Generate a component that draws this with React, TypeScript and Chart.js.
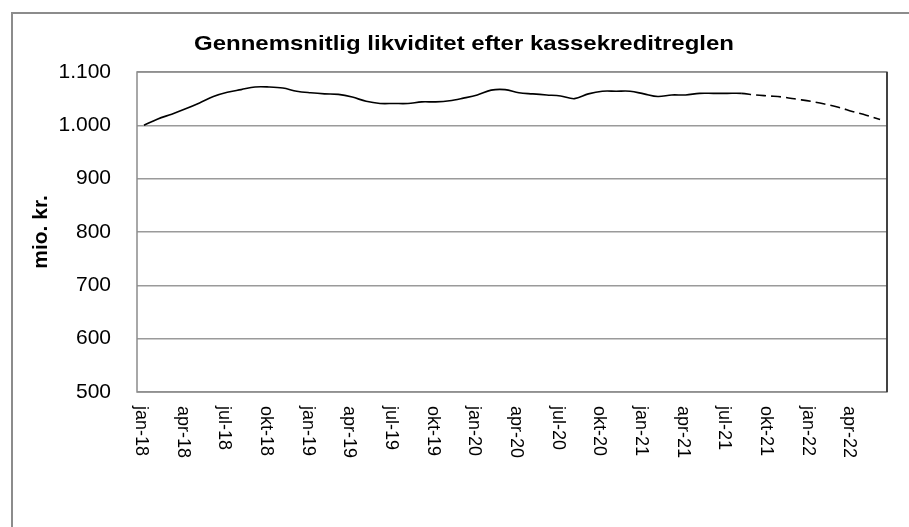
import React, { useEffect, useRef } from "react";
import { Chart, registerables } from "chart.js";

Chart.register(...registerables);

const categories = [
  "jan-18","feb-18","mar-18","apr-18","maj-18","jun-18","jul-18","aug-18","sep-18","okt-18","nov-18","dec-18",
  "jan-19","feb-19","mar-19","apr-19","maj-19","jun-19","jul-19","aug-19","sep-19","okt-19","nov-19","dec-19",
  "jan-20","feb-20","mar-20","apr-20","maj-20","jun-20","jul-20","aug-20","sep-20","okt-20","nov-20","dec-20",
  "jan-21","feb-21","mar-21","apr-21","maj-21","jun-21","jul-21","aug-21","sep-21","okt-21","nov-21","dec-21",
  "jan-22","feb-22","mar-22","apr-22","maj-22","jun-22",
];

const liquidity = [
  1000, 1012, 1021, 1031, 1042, 1054, 1062, 1067, 1072, 1072, 1070, 1064,
  1061, 1059, 1058, 1053, 1045, 1041, 1041, 1041, 1044, 1044, 1046, 1051,
  1057, 1066, 1067, 1061, 1059, 1057, 1055, 1050, 1059, 1064, 1064, 1064,
  1059, 1054, 1057, 1057, 1060, 1060, 1060, 1060, 1057, 1055, 1053, 1049,
  1045, 1040, 1034, 1026, 1019, 1011,
];

const forecastFrom = "aug-21";
const yTicks = [500, 600, 700, 800, 900, 1000, 1100];
const titleText = "Gennemsnitlig likviditet efter kassekreditreglen";
const yTitleText = "mio. kr.";

const FONT = "'Liberation Sans', Arial, sans-serif";

function fmt(v: number): string {
  const s = String(Math.round(v));
  return s.length > 3 ? s.slice(0, s.length - 3) + "." + s.slice(s.length - 3) : s;
}

const decorPlugin = {
  id: "decor",
  afterDraw(chart: any) {
    const { ctx, chartArea } = chart;
    const xs = chart.scales.x;
    ctx.save();
    // plot border
    ctx.strokeStyle = "#8c8c8c";
    ctx.lineWidth = 1.5;
    ctx.strokeRect(chartArea.left, chartArea.top, chartArea.right - chartArea.left, chartArea.bottom - chartArea.top);
    ctx.strokeStyle = "#222";
    ctx.beginPath();
    ctx.moveTo(chartArea.right, chartArea.top);
    ctx.lineTo(chartArea.right, chartArea.bottom);
    ctx.stroke();

    // title (fit to the reference width)
    ctx.fillStyle = "#000";
    ctx.font = `bold 21px ${FONT}`;
    ctx.textAlign = "center";
    ctx.textBaseline = "middle";
    const w = ctx.measureText(titleText).width;
    const sx = 540 / w;
    ctx.save();
    ctx.translate(464, 44);
    ctx.scale(sx, 1);
    ctx.fillText(titleText, 0, 0);
    ctx.restore();

    // y title
    ctx.save();
    ctx.translate(41, (chartArea.top + chartArea.bottom) / 2);
    ctx.rotate(-Math.PI / 2);
    ctx.font = `bold 21px ${FONT}`;
    ctx.textAlign = "center";
    ctx.textBaseline = "middle";
    ctx.fillText(yTitleText, 0, 0);
    ctx.restore();

    // x labels, rotated clockwise
    ctx.font = `18px ${FONT}`;
    ctx.fillStyle = "#000";
    categories.forEach((c, i) => {
      if (i % 3 !== 0) return;
      const x = xs.getPixelForValue(i) - 3;
      ctx.save();
      ctx.translate(x, chartArea.bottom + 14);
      ctx.rotate(Math.PI / 2);
      ctx.textAlign = "left";
      ctx.textBaseline = "middle";
      ctx.fillText(c, 0, 0);
      ctx.restore();
    });
    ctx.restore();
  },
};

export default function App() {
  const ref = useRef<HTMLCanvasElement | null>(null);

  useEffect(() => {
    if (!ref.current) return;
    const fIdx = categories.indexOf(forecastFrom);
    const chart = new Chart(ref.current, {
      type: "line",
      data: {
        labels: categories,
        datasets: [
          {
            data: liquidity,
            borderColor: "#000",
            borderWidth: 1.6,
            pointRadius: 0,
            tension: 0.35,
            fill: false,
            segment: {
              borderDash: (c: any) => (c.p0DataIndex >= fIdx ? [10, 5] : undefined),
            },
          },
        ],
      },
      options: {
        responsive: false,
        animation: false,
        layout: { padding: { top: 72, right: 22, bottom: 0, left: 0 } },
        plugins: { legend: { display: false }, title: { display: false }, tooltip: { enabled: false } },
        scales: {
          x: {
            offset: true,
            grid: { display: false },
            border: { display: false },
            ticks: { display: false },
            afterFit(scale: any) {
              scale.height = 135;
            },
          },
          y: {
            min: 500,
            max: 1100,
            afterBuildTicks(scale: any) {
              scale.ticks = yTicks.map((v) => ({ value: v }));
            },
            grid: { color: "#9a9a9a", lineWidth: 1.5, drawTicks: false },
            border: { display: false },
            ticks: {
              padding: 26,
              color: "#000",
              font: { family: FONT, size: 21 },
              callback: (v: any) => fmt(Number(v)),
            },
            afterFit(scale: any) {
              scale.width = 137;
            },
          },
        },
      },
      plugins: [decorPlugin],
    } as any);
    return () => chart.destroy();
  }, []);

  return (
    <div style={{ position: "fixed", left: 0, top: 0, width: 909, height: 527, background: "#fff" }}>
      <div
        style={{
          position: "absolute",
          left: 11,
          top: 12,
          width: 1000,
          height: 1000,
          border: "2px solid #8c8c8c",
        }}
      />
      <canvas ref={ref} width={909} height={527} style={{ position: "absolute", left: 0, top: 0 }} />
    </div>
  );
}
